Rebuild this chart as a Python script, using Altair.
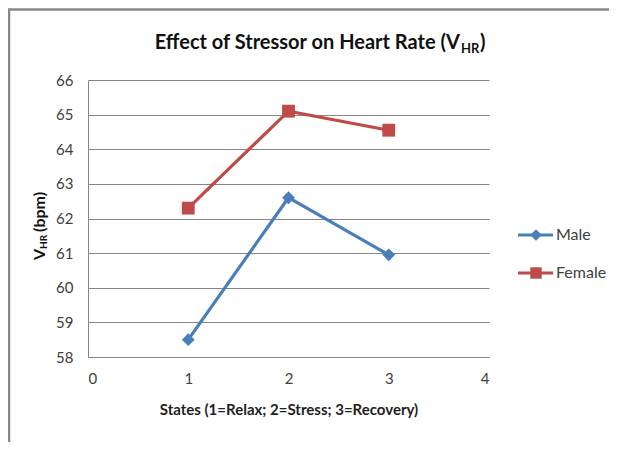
import altair as alt
import pandas as pd

states = [1, 2, 3]
male = [58.5, 62.6, 60.95]
female = [62.3, 65.1, 64.55]
series = ["Male", "Female"]
colors = ["#4A7EBB", "#BE4B48"]
shapes = ["diamond", "square"]
x_ticks = [0, 1, 2, 3, 4]
y_ticks = list(range(58, 67))

df = pd.DataFrame({
    "state": states * 2,
    "value": male + female,
    "series": ["Male"] * 3 + ["Female"] * 3,
})

FONT = "Lato"
W, H = 401, 277
GRID = "#868686"
LBL = "#404040"
DARK = "#111111"

color = alt.Color("series:N", scale=alt.Scale(domain=series, range=colors), legend=None)
x = alt.X("state:Q", scale=alt.Scale(domain=[0, 4]),
          axis=alt.Axis(values=x_ticks, title="States (1=Relax; 2=Stress; 3=Recovery)",
                        grid=False, ticks=False, labelPadding=14, titlePadding=16,
                        domainColor=GRID, labelColor=LBL, labelFont=FONT, labelFontSize=15,
                        titleFont=FONT, titleFontSize=15, titleFontWeight="bold",
                        titleColor="#222222"))
y = alt.Y("value:Q", scale=alt.Scale(domain=[58, 66], zero=False),
          axis=alt.Axis(values=y_ticks, title=None, grid=True, gridColor=GRID, ticks=False,
                        domainColor=GRID, labelColor=LBL, labelFont=FONT, labelFontSize=15,
                        labelPadding=15))

lines = alt.Chart(df).mark_line(strokeWidth=3.2).encode(x=x, y=y, color=color, detail="series:N")
points = alt.Chart(df).mark_point(filled=True, opacity=1, size=165).encode(
    x=x, y=y, color=color,
    shape=alt.Shape("series:N", scale=alt.Scale(domain=series, range=shapes), legend=None))

layers = [lines, points]

# legend
leg_y = [155, 193]
for s, c, sh, ly in zip(series, colors, shapes, leg_y):
    d = pd.DataFrame({"series": [s]})
    layers.append(alt.Chart(d).mark_rule(color=c, strokeWidth=3).encode(
        x=alt.value(430), x2=alt.value(465), y=alt.value(ly)))
    layers.append(alt.Chart(d).mark_point(filled=True, opacity=1, size=130, color=c, shape=sh).encode(
        x=alt.value(448), y=alt.value(ly)))
    layers.append(alt.Chart(d).mark_text(align="left", baseline="middle", font=FONT, fontSize=16,
                                         color=LBL).encode(
        x=alt.value(468), y=alt.value(ly), text="series:N"))

one = pd.DataFrame({"k": [0]})
# title with subscript
layers.append(alt.Chart(one).mark_text(align="right", baseline="alphabetic", font=FONT, fontSize=20,
                                       fontWeight="bold", color=DARK,
                                       text="Effect of Stressor on Heart Rate (V").encode(
    x=alt.value(372), y=alt.value(-31)))
layers.append(alt.Chart(one).mark_text(align="left", baseline="alphabetic", font=FONT, fontSize=13,
                                       fontWeight="bold", color=DARK, text="HR").encode(
    x=alt.value(373), y=alt.value(-27)))
layers.append(alt.Chart(one).mark_text(align="left", baseline="alphabetic", font=FONT, fontSize=20,
                                       fontWeight="bold", color=DARK, text=")").encode(
    x=alt.value(392), y=alt.value(-31)))
# y-axis title with subscript
layers.append(alt.Chart(one).mark_text(align="left", baseline="middle", angle=270, font=FONT,
                                       fontSize=16, fontWeight="bold", color=DARK,
                                       text="V").encode(x=alt.value(-48), y=alt.value(180)))
layers.append(alt.Chart(one).mark_text(align="left", baseline="middle", angle=270, font=FONT,
                                       fontSize=10, fontWeight="bold", color=DARK,
                                       text="HR").encode(x=alt.value(-44), y=alt.value(169)))
layers.append(alt.Chart(one).mark_text(align="left", baseline="middle", angle=270, font=FONT,
                                       fontSize=16, fontWeight="bold", color=DARK,
                                       text="(bpm)").encode(x=alt.value(-48), y=alt.value(152)))
# outer frame (top and left edges)
layers.append(alt.Chart(one).mark_rule(color="#888888", strokeWidth=2.5).encode(
    x=alt.value(-79), y=alt.value(-70.5), y2=alt.value(H + 90)))
layers.append(alt.Chart(one).mark_rule(color="#888888", strokeWidth=2.5).encode(
    x=alt.value(-80), x2=alt.value(W + 120), y=alt.value(-70.5)))

chart = alt.layer(*layers).properties(
    width=W, height=H,
    autosize=alt.AutoSizeParams(type="none"),
    padding={"left": 80, "top": 72, "right": 120, "bottom": 85},
).configure_view(stroke=None)

chart.save("out.html", embed_options={"renderer": "svg", "actions": False})
